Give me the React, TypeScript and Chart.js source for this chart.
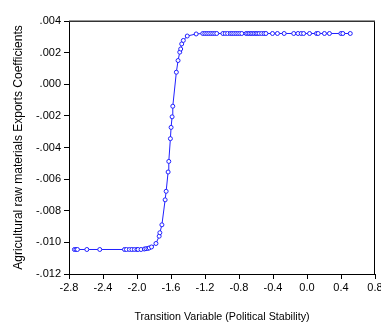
import React, { useEffect, useRef } from "react";
import { Chart, registerables } from "chart.js";

Chart.register(...registerables);

// Transition variable values (x)
const xValues: number[] = [
  -2.736, -2.718, -2.701, -2.590, -2.438, -2.147, -2.124, -2.089, -2.060, -2.030,
  -2.001, -1.987, -1.952, -1.914, -1.894, -1.871, -1.855, -1.829, -1.777, -1.739,
  -1.731, -1.707, -1.669, -1.657, -1.634, -1.626, -1.607, -1.599, -1.587, -1.579,
  -1.537, -1.517, -1.497, -1.486, -1.474, -1.455, -1.409, -1.304,
  -1.226, -1.202, -1.179, -1.156, -1.132, -1.109, -1.086, -1.062, -0.989, -0.961,
  -0.934, -0.903, -0.884, -0.861, -0.837, -0.814, -0.791, -0.767, -0.716, -0.697,
  -0.678, -0.658, -0.639, -0.619, -0.599, -0.581, -0.561, -0.534, -0.506, -0.483,
  -0.406, -0.348, -0.269, -0.156, -0.106, -0.068, -0.040, 0.030, 0.112, 0.131,
  0.205, 0.264, 0.399, 0.422, 0.509,
];

// Agricultural raw materials exports coefficients (y)
const yValues: number[] = [
  -0.01045, -0.01045, -0.01045, -0.01045, -0.01045, -0.01045, -0.01045, -0.01045, -0.01045, -0.01045,
  -0.01045, -0.01045, -0.01045, -0.01042, -0.0104, -0.01038, -0.01035, -0.01029, -0.01007, -0.00961,
  -0.00939, -0.00889, -0.00731, -0.00677, -0.00555, -0.00488, -0.00344, -0.00273, -0.00206, -0.00139,
  0.00076, 0.0015, 0.00203, 0.00223, 0.00255, 0.00277, 0.00305, 0.00318,
  0.00321, 0.00321, 0.00321, 0.00321, 0.00321, 0.00321, 0.00321, 0.00321, 0.00321, 0.00321,
  0.00321, 0.00321, 0.00321, 0.00321, 0.00321, 0.00321, 0.00321, 0.00321, 0.00321, 0.00321,
  0.00321, 0.00321, 0.00321, 0.00321, 0.00321, 0.00321, 0.00321, 0.00321, 0.00321, 0.00321,
  0.00321, 0.00321, 0.00321, 0.00321, 0.00321, 0.00321, 0.00321, 0.00321, 0.00321, 0.00321,
  0.00321, 0.00321, 0.00321, 0.00321, 0.00321,
];

const xAxisMin = -2.8;
const xAxisMax = 0.8;
const xAxisStep = 0.4;
const yAxisMin = -0.012;
const yAxisMax = 0.004;
const yAxisStep = 0.002;

const xTitle = "Transition Variable (Political Stability)";
const yTitle = "Agricultural raw materials Exports Coefficients";

const FONT = "'Liberation Sans', Arial, sans-serif";

const framePlugin = {
  id: "frame",
  afterDraw(chart: any) {
    const { ctx, chartArea } = chart;
    const { left, right, top, bottom } = chartArea;
    ctx.save();
    ctx.strokeStyle = "#000";
    ctx.lineWidth = 1;
    ctx.beginPath();
    ctx.moveTo(Math.round(right) - 0.5, Math.round(top));
    ctx.lineTo(Math.round(right) - 0.5, Math.round(bottom));
    ctx.stroke();
    ctx.strokeStyle = "#333";
    ctx.lineWidth = 1.5;
    ctx.beginPath();
    ctx.moveTo(Math.round(left), Math.round(top) + 0.25);
    ctx.lineTo(Math.round(right), Math.round(top) + 0.25);
    ctx.stroke();
    ctx.restore();
  },
};

export default function App() {
  const canvasRef = useRef<HTMLCanvasElement | null>(null);

  useEffect(() => {
    document.body.style.margin = "0";
    const canvas = canvasRef.current;
    if (!canvas) return;
    const points = xValues.map((x, i) => ({ x, y: yValues[i] }));
    const chart = new Chart(canvas, {
      type: "scatter",
      data: {
        datasets: [
          {
            data: points,
            showLine: true,
            borderColor: "#2020ff",
            borderWidth: 1,
            pointRadius: 2,
            pointBorderWidth: 1,
            pointBorderColor: "#2020ff",
            pointBackgroundColor: "#ffffff",
            tension: 0,
          },
        ],
      },
      options: {
        responsive: false,
        animation: false,
        devicePixelRatio: 1,
        layout: { padding: { top: 21, right: 6, left: 0, bottom: 0 } },
        plugins: { legend: { display: false }, tooltip: { enabled: false } },
        scales: {
          x: {
            type: "linear",
            min: xAxisMin,
            max: xAxisMax,
            ticks: {
              stepSize: xAxisStep,
              color: "#000",
              padding: 2,
              font: { family: FONT, size: 11 },
              maxRotation: 0,
              callback: (v: any) => {
                const n = Number(v);
                return Math.abs(n) < 1e-9 ? "0.0" : n.toFixed(1);
              },
            },
            grid: {
              display: true,
              drawOnChartArea: false,
              drawTicks: true,
              tickLength: 5,
              color: "#000",
              tickColor: "#000",
            },
            border: { display: true, color: "#000", width: 1 },
            title: {
              display: true,
              text: xTitle,
              color: "#000",
              font: { family: FONT, size: 10.7 },
              padding: { top: 0, bottom: 1 },
            },
            afterFit: (scale: any) => {
              scale.height = 50;
              scale.paddingLeft = 0;
              scale.paddingRight = 0;
            },
          },
          y: {
            type: "linear",
            min: yAxisMin,
            max: yAxisMax,
            ticks: {
              stepSize: yAxisStep,
              color: "#000",
              padding: 3,
              font: { family: FONT, size: 11 },
              callback: (v: any) => {
                const n = Number(v);
                if (Math.abs(n) < 1e-12) return ".000";
                return n.toFixed(3).replace(/^(-?)0\./, "$1.");
              },
            },
            grid: {
              display: true,
              drawOnChartArea: false,
              drawTicks: true,
              tickLength: 5,
              color: "#000",
              tickColor: "#000",
            },
            border: { display: true, color: "#000", width: 1 },
            title: {
              display: true,
              text: yTitle,
              color: "#000",
              font: { family: FONT, size: 12 },
              padding: { top: 11, bottom: 0 },
            },
            afterFit: (scale: any) => {
              scale.width = 69;
              scale.paddingTop = 0;
              scale.paddingBottom = 0;
            },
          },
        },
      },
      plugins: [framePlugin],
    });
    return () => chart.destroy();
  }, []);

  return (
    <canvas
      ref={canvasRef}
      width={381}
      height={324}
      style={{ display: "block", width: 381, height: 324 }}
    />
  );
}
